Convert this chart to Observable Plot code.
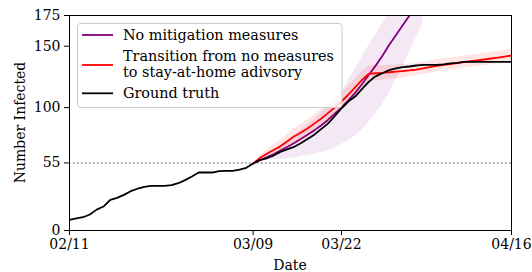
<!DOCTYPE html>
<html><head><meta charset="utf-8">
<script src="https://cdn.jsdelivr.net/npm/d3@7"></script>
<script src="https://cdn.jsdelivr.net/npm/@observablehq/plot@0.6"></script>
<style>
body{margin:0;background:#fff}
#chart{position:relative;width:532px;height:272px}
</style>
</head><body><div id="chart"></div>
<script>
// ---- data ----
const truthStart = "2020-02-11";
const modelStart = "2020-03-09";
const tickDates = ["2020-02-11", "2020-03-09", "2020-03-22", "2020-04-16"];
const tickLabels = ["02/11", "03/09", "03/22", "04/16"];
const yTicks = [0, 55, 100, 150, 175];
const threshold = 55;
const seriesNames = ["No mitigation measures", "Transition from no measures\nto stay-at-home adivsory", "Ground truth"];
const seriesColors = ["purple", "red", "black"];

// daily ground truth from 02/11 to 04/16
const groundTruth = [8.7, 9.8, 10.8, 13, 17, 19.5, 25, 26.5, 29, 32, 34, 35.5, 36.4, 36.4, 36.4, 37,
  38.5, 41, 44, 47.2, 47.2, 47.2, 48.4, 48.6, 48.6, 49.5, 51, 54.5, 57.5, 58.8, 61, 64, 66, 68,
  71, 74.5, 78, 82.5, 87, 93, 99.5, 105, 109, 115, 121, 125.5, 128, 130.5, 132, 133, 133.5,
  134.3, 134.8, 134.8, 134.8, 135.2, 136, 136.5, 137.3, 137.3, 137.3, 137.3, 137.3, 137.3, 137.3, 137.3];

// daily model runs from 03/09
const noMitigation = [54.5, 57, 59.5, 62, 65, 68, 71, 74.5, 78, 81.5, 85.5, 90, 95, 100, 106, 112,
  119, 126.5, 134, 142, 151, 159, 167, 175, 183, 191];
const noMitigationLow = [54.5, 56, 57, 57.5, 58, 58.5, 59, 60, 61, 62, 63.5, 65, 67, 70, 73, 77,
  82, 88, 95, 102, 112, 122, 133, 145, 157, 169];
const noMitigationHigh = [54.5, 58, 61.5, 65, 69, 73, 77, 81.5, 86, 90.5, 95.5, 101, 107, 113, 122,
  131, 141, 150.5, 159, 168, 178, 187, 195, 203, 211, 219];

const transition = [54.5, 59, 62.5, 65.5, 68.5, 72.5, 76.5, 79.5, 83, 87, 91, 95.5, 100, 105, 110.5,
  116.5, 122.5, 127.5, 128, 128.3, 128.8, 129.3, 129.8, 130.3, 131, 132, 133, 134, 134.8, 135.5,
  136.2, 137, 137.8, 138.5, 139.2, 140, 140.8, 141.6, 142.4];
const transitionLow = [54, 57, 59.5, 61.5, 63.5, 67, 70.5, 73, 76, 80, 84, 88.5, 93, 98, 103.5,
  109.5, 115.5, 121, 122, 122.3, 123.3, 123.8, 124.3, 125.3, 126, 127, 128, 129, 129.8, 130.5,
  131.2, 132, 132.8, 133.5, 134.2, 135, 135.8, 136.6, 137.4];
const transitionHigh = [55, 61, 65.5, 69.5, 73.5, 78, 82.5, 86, 90, 94, 98, 102.5, 107, 112, 117.5,
  123.5, 129.5, 134, 134, 134.3, 134.3, 134.8, 135.3, 135.3, 136, 137, 138, 139, 139.8, 140.5,
  141.2, 142, 142.8, 143.5, 144.2, 145, 145.8, 146.6, 147.4];

// ---- tables ----
const day = (start, i) => d3.utcDay.offset(new Date(start), i);
const gt = groundTruth.map((v, i) => ({date: day(truthStart, i), value: v}));
const nm = noMitigation.map((v, i) => ({date: day(modelStart, i), value: v, lo: noMitigationLow[i], hi: noMitigationHigh[i]}));
const tr = transition.map((v, i) => ({date: day(modelStart, i), value: v, lo: transitionLow[i], hi: transitionHigh[i]}));
const tickDateObjs = tickDates.map(d => new Date(d));

const svg = Plot.plot({
  width: 532, height: 272,
  marginLeft: 69, marginRight: 21, marginTop: 15, marginBottom: 42,
  style: {fontFamily: "DejaVu Serif", fontSize: "14px", color: "black", background: "white"},
  x: {type: "utc", domain: [tickDateObjs[0], tickDateObjs[3]]},
  y: {domain: [0, 175]},
  marks: [
    Plot.ruleY([threshold], {stroke: "gray", strokeWidth: 1.5, strokeDasharray: "1.5,2.5"}),
    Plot.areaY(nm, {x: "date", y1: "lo", y2: "hi", fill: seriesColors[0], fillOpacity: 0.09, clip: true}),
    Plot.line(nm, {x: "date", y: "value", stroke: seriesColors[0], strokeWidth: 1.8, clip: true}),
    Plot.areaY(tr, {x: "date", y1: "lo", y2: "hi", fill: seriesColors[1], fillOpacity: 0.1, clip: true}),
    Plot.line(tr, {x: "date", y: "value", stroke: seriesColors[1], strokeWidth: 1.8, clip: true}),
    Plot.line(gt, {x: "date", y: "value", stroke: seriesColors[2], strokeWidth: 1.8, clip: true}),
    Plot.axisX({ticks: tickDateObjs, tickFormat: d => tickLabels[tickDateObjs.findIndex(t => +t === +d)],
      tickSize: 5, tickPadding: 4, label: null, fontSize: 14}),
    Plot.axisY({ticks: yTicks, tickSize: 5, tickPadding: 4, label: null, fontSize: 14}),
    Plot.frame({stroke: "black", strokeWidth: 1})
  ]
});

// axis titles
const s = d3.select(svg);
s.append("text").attr("x", 290).attr("y", 270).attr("text-anchor", "middle")
  .attr("font-size", 14).attr("fill", "black").text("Date");
s.append("text").attr("transform", "translate(25,122.5) rotate(-90)").attr("text-anchor", "middle")
  .attr("font-size", 14).attr("fill", "black").text("Number Infected");

// legend
const lg = s.append("g").attr("text-anchor", "start");
lg.append("rect").attr("x", 77.5).attr("y", 23.5).attr("width", 264.5).attr("height", 84).attr("rx", 3)
  .attr("fill", "white").attr("fill-opacity", 0.8).attr("stroke", "#cccccc");
const entries = [
  {y: 35, baselines: [39.5]},
  {y: 65, baselines: [60.5, 77]},
  {y: 93.3, baselines: [97.8]}
];
entries.forEach((e, k) => {
  lg.append("line").attr("x1", 82).attr("x2", 113).attr("y1", e.y).attr("y2", e.y)
    .attr("stroke", seriesColors[k]).attr("stroke-width", 1.8);
  seriesNames[k].split("\n").forEach((t, j) => {
    lg.append("text").attr("x", 123).attr("y", e.baselines[j]).attr("font-size", 14.4)
      .attr("text-anchor", "start").attr("fill", "black").text(t);
  });
});

document.getElementById("chart").appendChild(svg);
</script>
</body></html>
